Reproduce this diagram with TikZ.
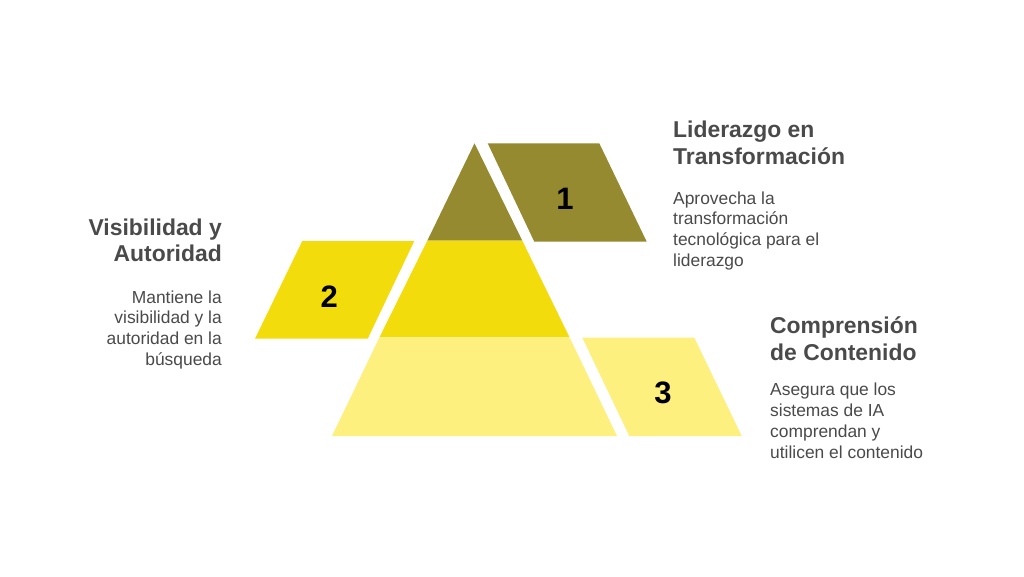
\documentclass[tikz,border=0pt]{standalone}
\usepackage{fontspec}
\setmainfont{Liberation Sans}
\definecolor{olive1}{HTML}{958A2F}
\definecolor{yel2}{HTML}{F3DC0B}
\definecolor{yel3}{HTML}{FDF07E}
\definecolor{txtgray}{HTML}{4A4A4A}
\begin{document}
\begin{tikzpicture}[x=1pt,y=-1pt,
  titletext/.style={inner sep=0pt,text=txtgray,font=\fontsize{22.9}{26.7}\selectfont\bfseries},
  bodytext/.style={inner sep=0pt,text=txtgray,font=\fontsize{17.4}{20.9}\selectfont},
  numtext/.style={inner sep=0pt,text=black,font=\fontsize{31}{31}\selectfont\bfseries}]
\useasboundingbox[fill=white] (0,0) rectangle (1024,576);
% pyramid tiers
\fill[olive1] (474.5,143.3) -- (522.3,240.7) -- (427.3,240.7) -- cycle;
\fill[yel2] (427.3,240.7) -- (522.3,240.7) -- (569.5,337.3) -- (379.5,337.3) -- cycle;
\fill[yel3] (379.5,337.3) -- (569.5,337.3) -- (617,436) -- (332,436) -- cycle;
% parallelograms
\fill[olive1] (487.7,143.3) -- (599.3,143.3) -- (646.7,241.7) -- (534.3,241.7) -- cycle;
\fill[yel2] (302.3,241) -- (414.3,241) -- (367.7,338.7) -- (255,338.7) -- cycle;
\fill[yel3] (582.3,337.7) -- (694.3,337.7) -- (741.7,436) -- (629.3,436) -- cycle;
% numbers
\node[numtext] (n1) at (565,199) {1};
\node[numtext] (n2) at (329.3,296.5) {2};
\node[numtext] (n3) at (663,392.7) {3};
% texts (base anchor = baseline of last line)
\node[titletext,anchor=base west,align=left] (t1) at (673,164.3) {Liderazgo en\\Transformación};
\node[bodytext,anchor=base west,align=left] (b1) at (673,266.7) {Aprovecha la\\transformación\\tecnológica para el\\liderazgo};
\node[titletext,anchor=base east,align=right] (t2) at (222,261.7) {Visibilidad y\\Autoridad};
\node[bodytext,anchor=base east,align=right] (b2) at (222,365.7) {Mantiene la\\visibilidad y la\\autoridad en la\\búsqueda};
\node[titletext,anchor=base west,align=left] (t3) at (770,360) {Comprensión\\de Contenido};
\node[bodytext,anchor=base west,align=left] (b3) at (770,458.3) {Asegura que los\\sistemas de IA\\comprendan y\\utilicen el contenido};
\end{tikzpicture}
\end{document}
